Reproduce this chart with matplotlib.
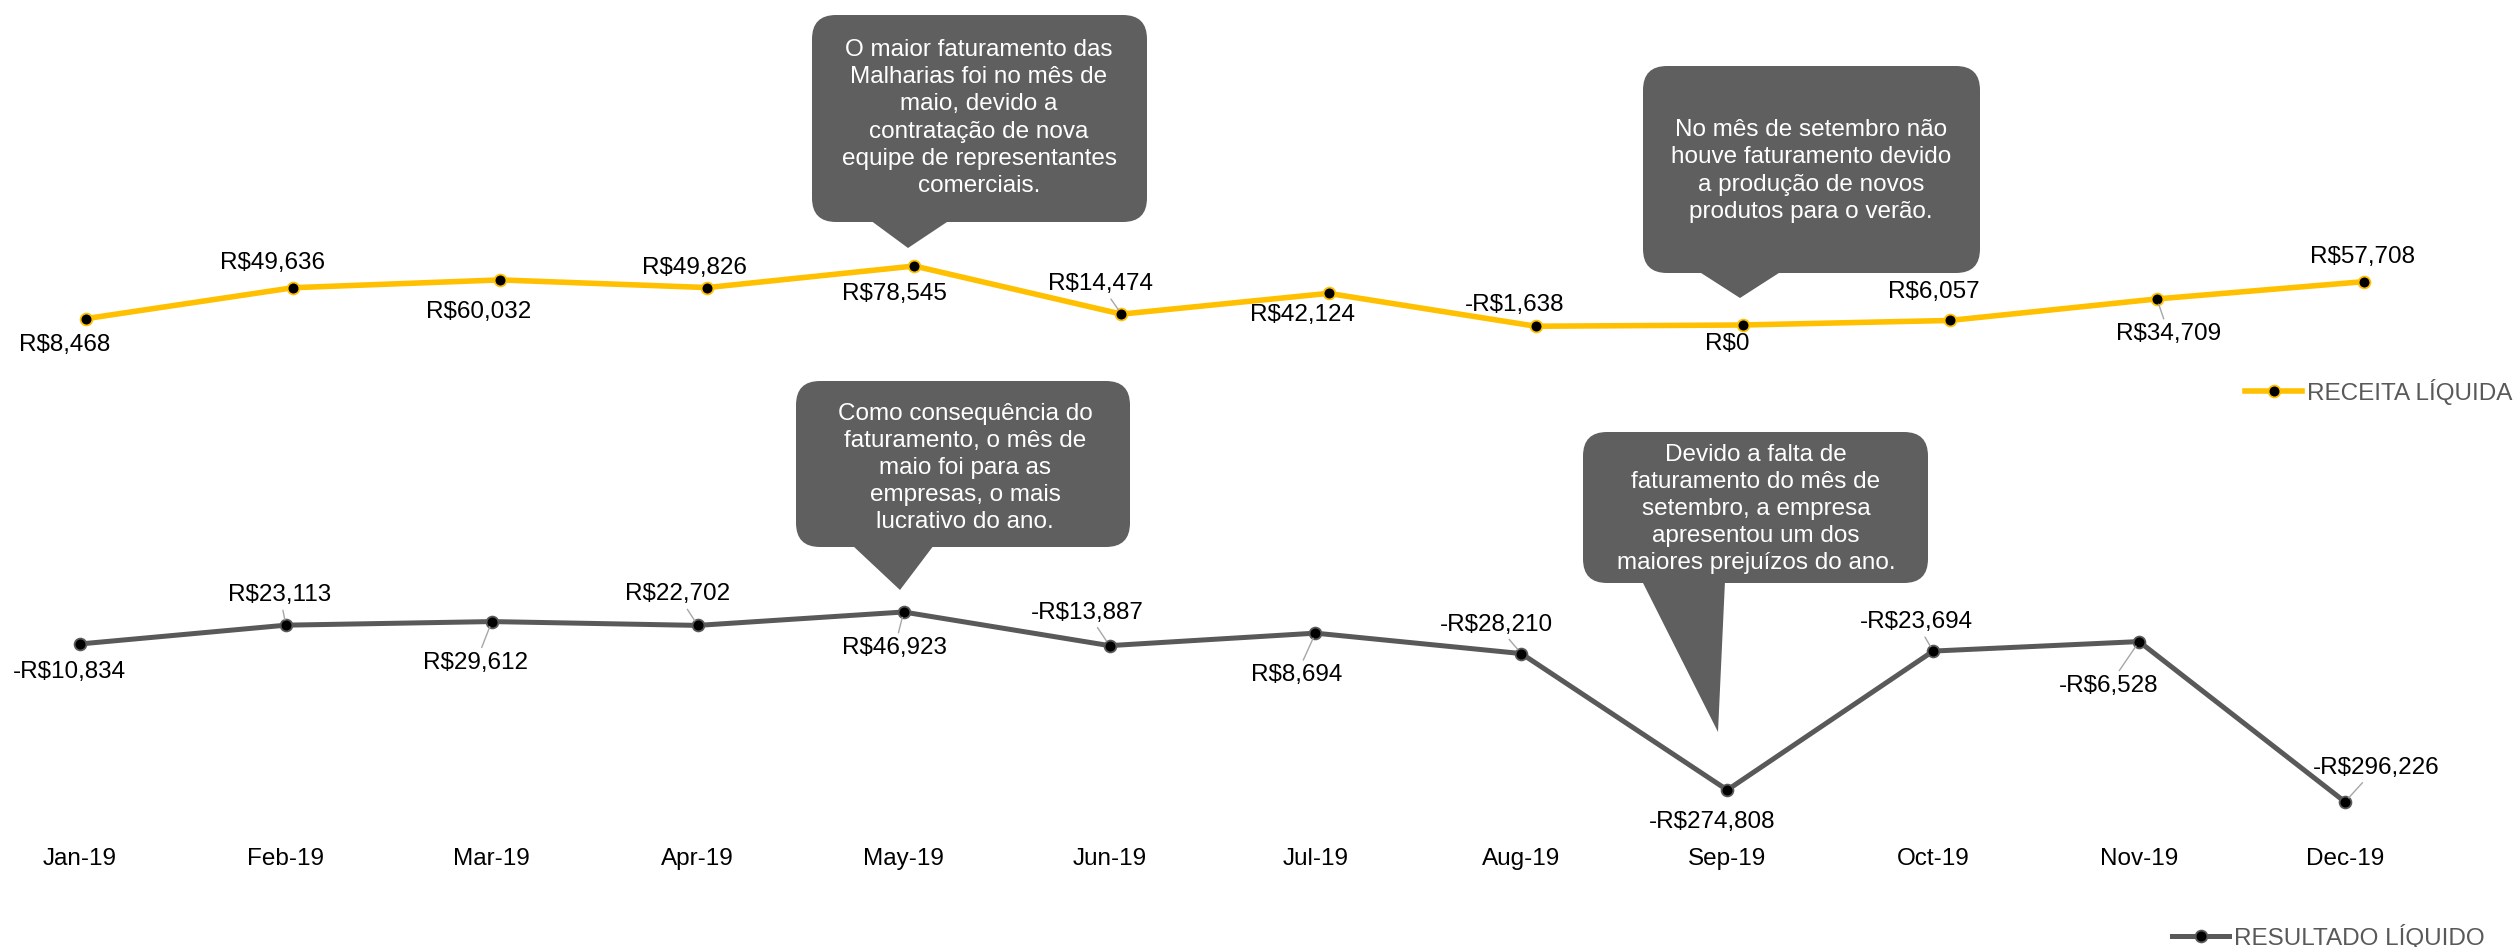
import numpy as np
import matplotlib
matplotlib.use("Agg")
import matplotlib.pyplot as plt
from matplotlib.patches import FancyBboxPatch, Polygon

plt.rcParams['font.family'] = ['Liberation Sans', 'DejaVu Sans']

# dados
meses = ["Jan-19", "Feb-19", "Mar-19", "Apr-19", "May-19", "Jun-19",
         "Jul-19", "Aug-19", "Sep-19", "Oct-19", "Nov-19", "Dec-19"]
receita = [8468, 49636, 60032, 49826, 78545, 14474,
           42124, -1638, 0, 6057, 34709, 57708]
resultado = [-10834, 23113, 29612, 22702, 46923, -13887,
             8694, -28210, -274808, -23694, -6528, -296226]

# deslocamento dos rotulos (pixels) e linhas de chamada
off_rec = [(-21, -26), (-21, 25), (-22, -32), (-13, 20), (-20, -28), (-21, 30),
           (-26, -22), (-21, 21), (-15, -19), (-16, 28), (12, -35), (-1, 25)]
lead_rec = [0, 0, 0, 0, 0, 1, 0, 0, 0, 0, 1, 0]
off_res = [(-11, -28), (-6, 30), (-16, -41), (-20, 31), (-9, -36), (-22, 33),
           (-19, -42), (-25, 29), (-15, -32), (-17, 29), (-30, -44), (31, 34)]
lead_res = [0, 1, 1, 1, 1, 1, 1, 1, 0, 1, 1, 1]

W, H = 2515, 947
FS = 17.5
AMARELO = "#FFC000"
CINZA = "#595959"
CAIXA = "#5f5f5f"

def fmt(v):
    s = "R${:,.0f}".format(abs(v))
    return "-" + s if v < 0 else s

fig = plt.figure(figsize=(W / 100, H / 100), dpi=100)

def px_axes(left, top, right, bottom):
    return fig.add_axes([left / W, 1 - bottom / H, (right - left) / W, (bottom - top) / H])

x = np.arange(len(meses))

# grafico de cima: receita liquida
ax1 = px_axes(86, 240, 2364, 360)
l1, = ax1.plot(x, receita, color=AMARELO, lw=4, marker="o", ms=8.5,
               mfc="black", mec=AMARELO, mew=1.3, clip_on=False, solid_joinstyle="round")
ax1.set_xlim(0, 11)
ax1.set_ylim(-46593, 113155)
ax1.axis("off")
for i, v in enumerate(receita):
    ap = dict(arrowstyle="-", color="#a6a6a6", lw=1, shrinkA=1, shrinkB=4) if lead_rec[i] else None
    ax1.annotate(fmt(v), xy=(i, v), xytext=off_rec[i], textcoords="offset pixels",
                 ha="center", va="center", fontsize=FS, color="black", arrowprops=ap)
ax1.legend(handles=[l1], labels=["RECEITA LÍQUIDA"], loc="center left",
           bbox_to_anchor=(2245 / W, 1 - 392 / H), bbox_transform=fig.transFigure,
           frameon=False, borderpad=0, borderaxespad=0, handlelength=2.35,
           handletextpad=0.2, fontsize=FS, labelcolor=CINZA)

# grafico de baixo: resultado liquido
ax2 = px_axes(80, 570, 2345, 840)
l2, = ax2.plot(x, resultado, color=CINZA, lw=3.6, marker="o", ms=8.5,
               mfc="black", mec=CINZA, mew=1.3, clip_on=False, solid_joinstyle="round")
ax2.set_xlim(0, 11)
ax2.set_ylim(-365154, 122826)
for s in ax2.spines.values():
    s.set_visible(False)
ax2.set_yticks([])
ax2.set_xticks(x, meses)
ax2.tick_params(axis="x", length=0, pad=6, labelsize=FS, labelcolor="black")
for i, v in enumerate(resultado):
    ap = dict(arrowstyle="-", color="#a6a6a6", lw=1, shrinkA=1, shrinkB=4) if lead_res[i] else None
    ax2.annotate(fmt(v), xy=(i, v), xytext=off_res[i], textcoords="offset pixels",
                 ha="center", va="center", fontsize=FS, color="black", arrowprops=ap)
ax2.legend(handles=[l2], labels=["RESULTADO LÍQUIDO"], loc="center left",
           bbox_to_anchor=(2172 / W, 1 - 937 / H), bbox_transform=fig.transFigure,
           frameon=False, borderpad=0, borderaxespad=0, handlelength=2.35,
           handletextpad=0.2, fontsize=FS, labelcolor=CINZA)

# camada dos baloes (coordenadas em pixels, y para baixo)
ov = fig.add_axes([0, 0, 1, 1], zorder=10)
ov.set_xlim(0, W)
ov.set_ylim(H, 0)
ov.axis("off")

def balao(box, tri, texto, tx, ty):
    l, t, r, b = box
    ov.add_patch(FancyBboxPatch((l, t), r - l, b - t,
                                boxstyle="round,pad=0,rounding_size=24",
                                fc=CAIXA, ec="none"))
    ov.add_patch(Polygon([(tri[0], b - 2), (tri[1], b - 2), (tri[2], tri[3])],
                         closed=True, fc=CAIXA, ec="none"))
    ov.text(tx, ty, texto, ha="center", va="center", color="white",
            fontsize=FS, linespacing=1.3)

balao((812, 15, 1147, 222), (870, 950, 908, 248),
      "O maior faturamento das\nMalharias foi no mês de\nmaio, devido a\n"
      "contratação de nova\nequipe de representantes\ncomerciais.", 979, 118)
balao((1643, 66, 1980, 273), (1698, 1782, 1740, 298),
      "No mês de setembro não\nhouve faturamento devido\na produção de novos\n"
      "produtos para o verão.", 1811, 171)
balao((796, 381, 1130, 547), (852, 934, 900, 590),
      "Como consequência do\nfaturamento, o mês de\nmaio foi para as\n"
      "empresas, o mais\nlucrativo do ano.", 965, 468)
balao((1583, 432, 1928, 583), (1642, 1725, 1718, 732),
      "Devido a falta de\nfaturamento do mês de\nsetembro, a empresa\n"
      "apresentou um dos\nmaiores prejuízos do ano.", 1756, 509)

fig.savefig("out.png", dpi=100)
